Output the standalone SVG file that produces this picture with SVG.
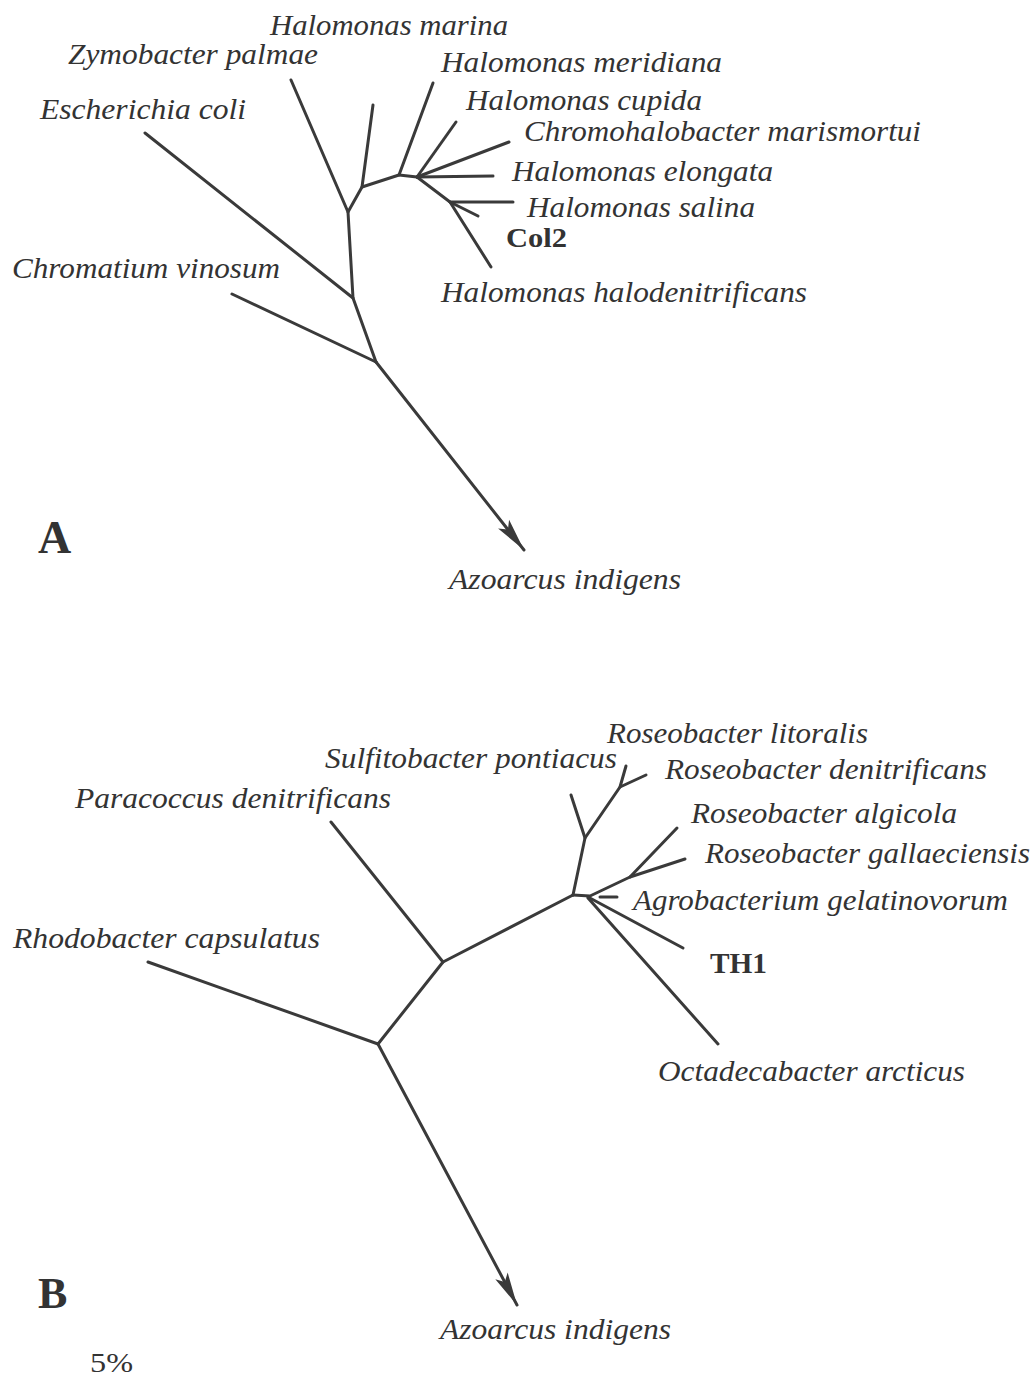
<svg xmlns="http://www.w3.org/2000/svg" width="1034" height="1391" viewBox="0 0 1034 1391">
<style>
.lbl{font-family:"Liberation Serif","Times New Roman",serif;font-style:italic;font-size:29px;fill:#333}
.bold{font-family:"Liberation Serif","Times New Roman",serif;font-weight:bold;fill:#333}
.br{stroke:#3a3a3a;stroke-width:3;fill:none;stroke-linecap:round;stroke-linejoin:round}
</style>
<defs>
<marker id="arr" markerUnits="userSpaceOnUse" markerWidth="40" markerHeight="20" viewBox="-34 -10 36 20" refX="0" refY="0" orient="auto">
<path d="M0,0 L-33,-7 L-26,0 L-33,7 Z" fill="#3a3a3a"/>
</marker>
</defs>
<rect width="1034" height="1391" fill="#fff"/>
<g id="connectors">
<!-- Tree A -->
<path class="br" d="M291,80 L348,212 L353,298 L376,362"/>
<path class="br" d="M145,133 L353,298"/>
<path class="br" d="M232,294 L376,362"/>
<path class="br" d="M376,362 L524,550" marker-end="url(#arr)"/>
<path class="br" d="M348,212 L362,187 L373,105"/>
<path class="br" d="M362,187 L399,175 L433,83"/>
<path class="br" d="M399,175 L417,177"/>
<path class="br" d="M417,177 L456,122"/>
<path class="br" d="M417,177 L509,142"/>
<path class="br" d="M417,177 L493,176"/>
<path class="br" d="M417,177 L450,202 L513,202"/>
<path class="br" d="M450,202 L478,216"/>
<path class="br" d="M450,202 L491,267"/>
<!-- Tree B -->
<path class="br" d="M148,962 L378,1044 L443,962 L331,822"/>
<path class="br" d="M443,962 L573,895"/>
<path class="br" d="M378,1044 L517,1305" marker-end="url(#arr)"/>
<path class="br" d="M573,895 L585,838 L571,795"/>
<path class="br" d="M585,838 L620,787 L626,766"/>
<path class="br" d="M620,787 L646,775"/>
<path class="br" d="M573,895 L590,896 L630,877 L685,859"/>
<path class="br" d="M630,877 L677,828"/>
<path class="br" d="M600,897 L617,897"/>
<path class="br" d="M588,897 L683,948"/>
<path class="br" d="M588,898 L718,1044"/>
</g>
<g id="n-hmarina"><text class="lbl" x="270" y="35" textLength="238" lengthAdjust="spacingAndGlyphs">Halomonas marina</text></g>
<g id="n-zymobacter"><text class="lbl" x="68" y="64" textLength="250" lengthAdjust="spacingAndGlyphs">Zymobacter palmae</text></g>
<g id="n-hmeridiana"><text class="lbl" x="441" y="72" textLength="281" lengthAdjust="spacingAndGlyphs">Halomonas meridiana</text></g>
<g id="n-ecoli"><text class="lbl" x="40" y="119" textLength="206" lengthAdjust="spacingAndGlyphs">Escherichia coli</text></g>
<g id="n-hcupida"><text class="lbl" x="466" y="110" textLength="236" lengthAdjust="spacingAndGlyphs">Halomonas cupida</text></g>
<g id="n-chromohalobacter"><text class="lbl" x="524" y="141" textLength="397" lengthAdjust="spacingAndGlyphs">Chromohalobacter marismortui</text></g>
<g id="n-helongata"><text class="lbl" x="512" y="181" textLength="261" lengthAdjust="spacingAndGlyphs">Halomonas elongata</text></g>
<g id="n-hsalina"><text class="lbl" x="527" y="217" textLength="228" lengthAdjust="spacingAndGlyphs">Halomonas salina</text></g>
<g id="n-col2"><text class="bold" x="506" y="247" font-size="27" textLength="61" lengthAdjust="spacingAndGlyphs">Col2</text></g>
<g id="n-chromatium"><text class="lbl" x="12" y="278" textLength="268" lengthAdjust="spacingAndGlyphs">Chromatium vinosum</text></g>
<g id="n-hhalodenitrificans"><text class="lbl" x="441" y="302" textLength="366" lengthAdjust="spacingAndGlyphs">Halomonas halodenitrificans</text></g>
<g id="n-labelA"><text class="bold" x="38" y="553" font-size="46">A</text></g>
<g id="n-azoarcusA"><text class="lbl" x="449" y="589" textLength="232" lengthAdjust="spacingAndGlyphs">Azoarcus indigens</text></g>
<g id="n-rlitoralis"><text class="lbl" x="607" y="743" textLength="261" lengthAdjust="spacingAndGlyphs">Roseobacter litoralis</text></g>
<g id="n-sulfitobacter"><text class="lbl" x="325" y="768" textLength="292" lengthAdjust="spacingAndGlyphs">Sulfitobacter pontiacus</text></g>
<g id="n-rdenitrificans"><text class="lbl" x="665" y="779" textLength="322" lengthAdjust="spacingAndGlyphs">Roseobacter denitrificans</text></g>
<g id="n-paracoccus"><text class="lbl" x="75" y="808" textLength="316" lengthAdjust="spacingAndGlyphs">Paracoccus denitrificans</text></g>
<g id="n-ralgicola"><text class="lbl" x="691" y="823" textLength="266" lengthAdjust="spacingAndGlyphs">Roseobacter algicola</text></g>
<g id="n-rgallaeciensis"><text class="lbl" x="705" y="863" textLength="325" lengthAdjust="spacingAndGlyphs">Roseobacter gallaeciensis</text></g>
<g id="n-agrobacterium"><text class="lbl" x="633" y="910" textLength="375" lengthAdjust="spacingAndGlyphs">Agrobacterium gelatinovorum</text></g>
<g id="n-th1"><text class="bold" x="710" y="973" font-size="30" textLength="57" lengthAdjust="spacingAndGlyphs">TH1</text></g>
<g id="n-rhodobacter"><text class="lbl" x="13" y="948" textLength="307" lengthAdjust="spacingAndGlyphs">Rhodobacter capsulatus</text></g>
<g id="n-octadecabacter"><text class="lbl" x="658" y="1081" textLength="307" lengthAdjust="spacingAndGlyphs">Octadecabacter arcticus</text></g>
<g id="n-labelB"><text class="bold" x="38" y="1308" font-size="44">B</text></g>
<g id="n-azoarcusB"><text class="lbl" x="440" y="1339" textLength="231" lengthAdjust="spacingAndGlyphs">Azoarcus indigens</text></g>
<g id="n-scale"><text x="90" y="1372" font-family="Liberation Serif, Times New Roman, serif" font-size="27" fill="#333" textLength="43" lengthAdjust="spacingAndGlyphs">5%</text></g>
</svg>
